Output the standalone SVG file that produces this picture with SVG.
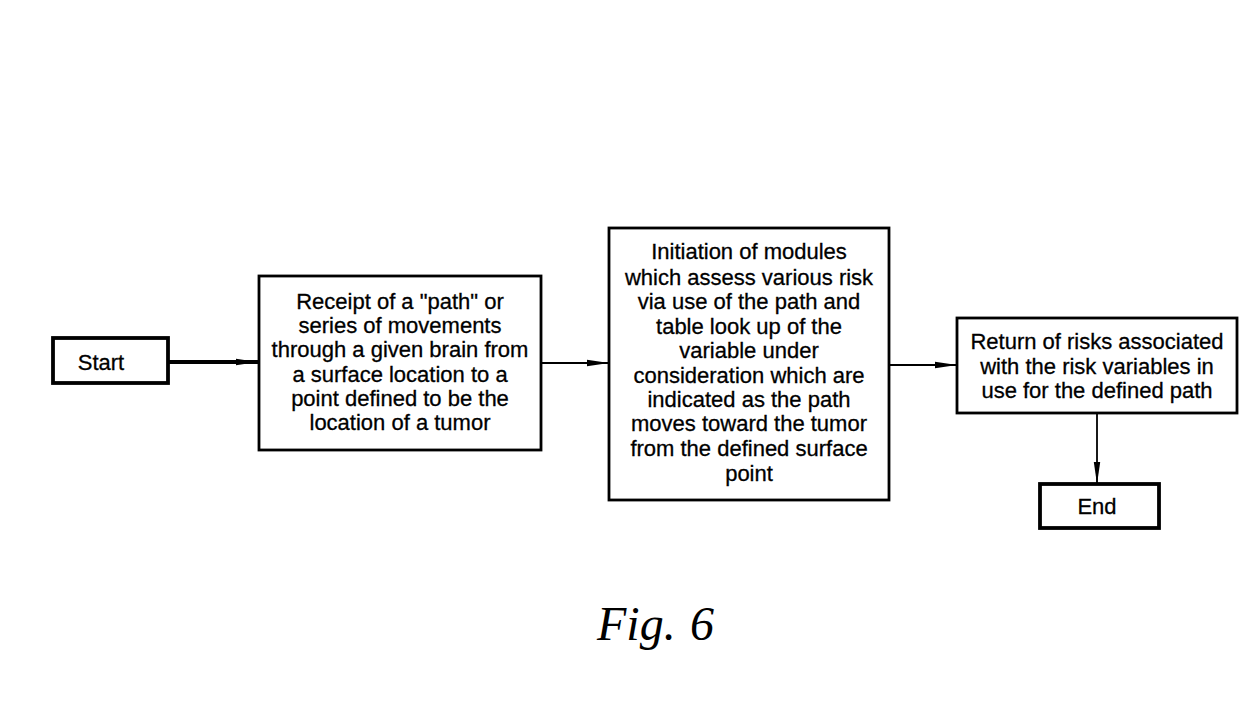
<svg xmlns="http://www.w3.org/2000/svg" width="1259" height="709" viewBox="0 0 1259 709">
<defs>
<style>
.box{fill:#fff;stroke:#000;stroke-width:2.8}
.thick{fill:#fff;stroke:#000;stroke-width:3.8}
.t{font-family:"Liberation Sans",Arial,sans-serif;font-size:22px;fill:#000;stroke:#000;stroke-width:0.3;text-anchor:middle}
.c{fill:none;stroke:#000;stroke-width:1.8}
.ct{fill:none;stroke:#000;stroke-width:3.8}
</style>
<marker id="ah" viewBox="0 0 10 10" refX="10" refY="5" markerWidth="22" markerHeight="8" markerUnits="userSpaceOnUse" orient="auto" preserveAspectRatio="none">
<path d="M0,1 L10,5 L0,9 Z" fill="#000"/>
</marker>
</defs>
<rect width="1259" height="709" fill="#fff"/>
<g id="connectors">
<path class="ct" d="M168,362 H258" marker-end="url(#ah)"/>
<path class="c" d="M541,363 H609" marker-end="url(#ah)"/>
<path class="c" d="M889,365 H957" marker-end="url(#ah)"/>
<path class="c" d="M1097,413 V484" marker-end="url(#ah)"/>
</g>
<g id="start">
<rect class="thick" x="53" y="338" width="115" height="45"/>
<text class="t" x="101" y="370">Start</text>
</g>
<g id="receipt">
<rect class="box" x="259" y="276" width="282" height="174"/>
<text class="t" x="400"><tspan x="400" y="309">Receipt of a "path" or</tspan><tspan x="400" y="333">series of movements</tspan><tspan x="400" y="357">through a given brain from</tspan><tspan x="400" y="382">a surface location to a</tspan><tspan x="400" y="406">point defined to be the</tspan><tspan x="400" y="430">location of a tumor</tspan></text>
</g>
<g id="initiation">
<rect class="box" x="609" y="228" width="280" height="272"/>
<text class="t" x="749"><tspan x="749" y="259">Initiation of modules</tspan><tspan x="749" y="285">which assess various risk</tspan><tspan x="749" y="309">via use of the path and</tspan><tspan x="749" y="334">table look up of the</tspan><tspan x="749" y="358">variable under</tspan><tspan x="749" y="383">consideration which are</tspan><tspan x="749" y="407">indicated as the path</tspan><tspan x="749" y="431">moves toward the tumor</tspan><tspan x="749" y="456">from the defined surface</tspan><tspan x="749" y="481">point</tspan></text>
</g>
<g id="return">
<rect class="box" x="957" y="318" width="280" height="95"/>
<text class="t" x="1097"><tspan x="1097" y="349">Return of risks associated</tspan><tspan x="1097" y="374">with the risk variables in</tspan><tspan x="1097" y="398">use for the defined path</tspan></text>
</g>
<g id="end">
<rect class="thick" x="1040" y="484" width="119" height="44"/>
<text class="t" x="1097" y="514">End</text>
</g>
<text y="640" font-family="'Liberation Serif','DejaVu Serif',serif" font-style="italic" font-size="48"><tspan x="597">Fig.</tspan><tspan x="690">6</tspan></text>
</svg>
